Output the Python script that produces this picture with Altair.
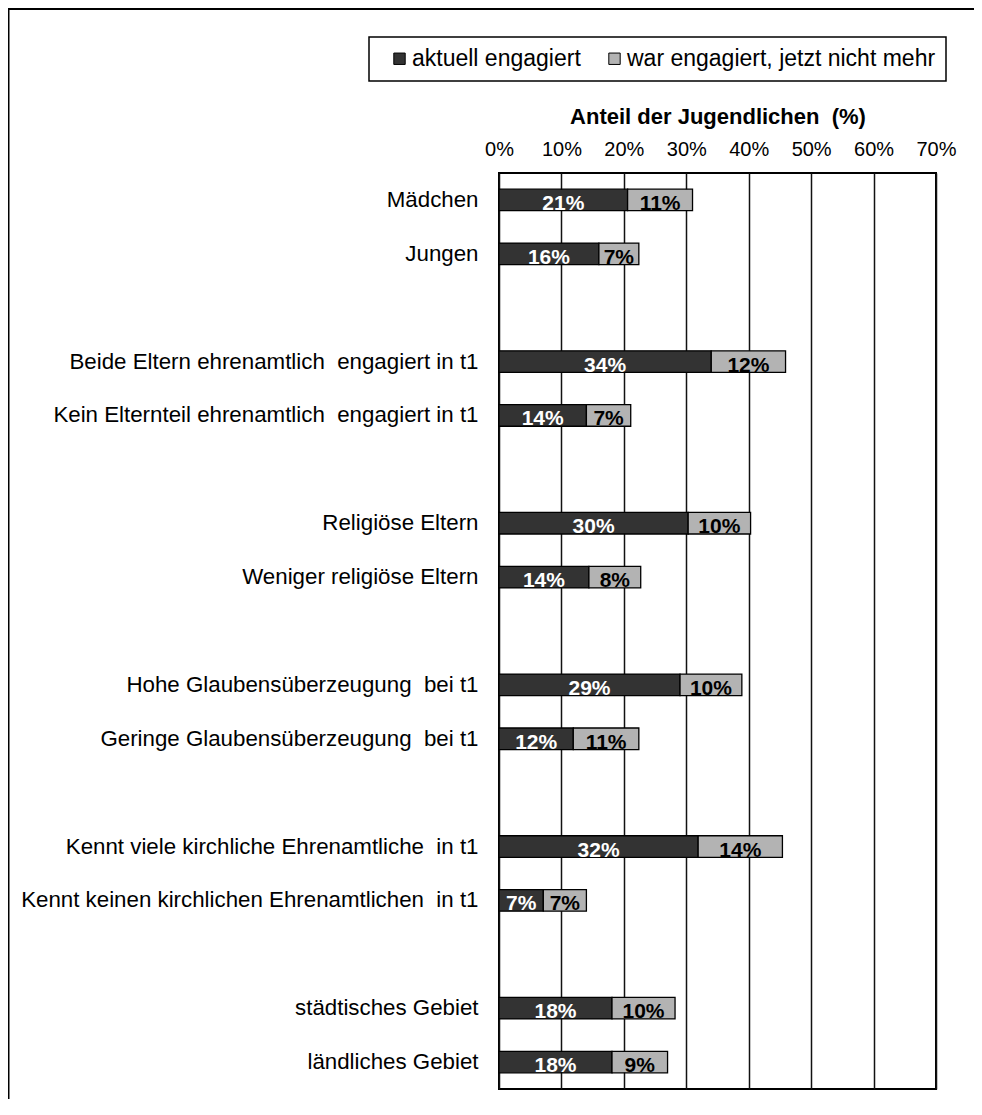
import altair as alt
import pandas as pd

# ---- data ----
categories = [
    "Mädchen",
    "Jungen",
    "Beide Eltern ehrenamtlich \u00a0engagiert in t1",
    "Kein Elternteil ehrenamtlich \u00a0engagiert in t1",
    "Religiöse Eltern",
    "Weniger religiöse Eltern",
    "Hohe Glaubensüberzeugung \u00a0bei t1",
    "Geringe Glaubensüberzeugung \u00a0bei t1",
    "Kennt viele kirchliche Ehrenamtliche \u00a0in t1",
    "Kennt keinen kirchlichen Ehrenamtlichen \u00a0in t1",
    "städtisches Gebiet",
    "ländliches Gebiet",
]
series = ["aktuell engagiert", "war engagiert, jetzt nicht mehr"]
dark_values = [20.6, 16.0, 34.0, 14.0, 30.3, 14.4, 29.0, 11.9, 31.9, 7.1, 18.1, 18.1]
gray_values = [10.4, 6.4, 11.9, 7.1, 10.0, 8.3, 9.9, 10.5, 13.5, 6.9, 10.1, 8.9]
dark_labels = [21, 16, 34, 14, 30, 14, 29, 12, 32, 7, 18, 18]
gray_labels = [11, 7, 12, 7, 10, 8, 10, 11, 14, 7, 10, 9]
x_ticks = [0, 10, 20, 30, 40, 50, 60, 70]

# y domain: pairs of categories separated by empty spacer rows
y_domain = []
for i in range(0, len(categories), 2):
    y_domain += [categories[i], categories[i + 1]]
    if i + 2 < len(categories):
        y_domain.append(" " * (i // 2 + 1))

rows = []
for cat, dv, gv, dl, gl in zip(categories, dark_values, gray_values, dark_labels, gray_labels):
    rows.append(dict(cat=cat, series=series[0], start=0.0, end=dv, mid=dv / 2, label=f"{dl}%"))
    rows.append(dict(cat=cat, series=series[1], start=dv, end=dv + gv, mid=dv + gv / 2, label=f"{gl}%"))
df = pd.DataFrame(rows)

W, H = 437, 916
PAD_L, PAD_T, PAD_R, PAD_B = 491, 165, 38, 10

x_scale = alt.Scale(domain=[0, 70], nice=False, zero=True)
y_scale = alt.Scale(domain=y_domain, paddingInner=0.6, paddingOuter=0.3)

base = alt.Chart(df)

bars = base.mark_bar(stroke="black", strokeWidth=1.3).encode(
    y=alt.Y("cat:N", scale=y_scale, sort=y_domain,
            axis=alt.Axis(title=None, domain=False, ticks=False, labelFontSize=22.3,
                          labelColor="black", labelPadding=21, labelLimit=800)),
    x=alt.X("start:Q", scale=x_scale,
            axis=alt.Axis(orient="top", values=x_ticks, labelExpr="datum.value + '%'",
                          title="Anteil der Jugendlichen \u00a0(%)", titleFontSize=22,
                          titleFontWeight="bold", titleColor="black", titlePadding=11,
                          labelFontSize=20, labelColor="black", labelPadding=14,
                          ticks=False, domain=False, grid=True, gridColor="#111",
                          gridWidth=1.5, labelFlush=False, labelOverlap=False)),
    x2="end:Q",
    color=alt.Color("series:N", scale=alt.Scale(domain=series, range=["#333333", "#b3b3b3"]),
                    legend=alt.Legend(title=None, orient="none", direction="horizontal",
                                      legendX=-130, legendY=-136)),
    order=alt.Order("start:Q"),
)

texts = base.mark_text(fontWeight="bold", fontSize=21, baseline="alphabetic", dy=10).encode(
    y=alt.Y("cat:N", scale=y_scale, sort=y_domain),
    x=alt.X("mid:Q", scale=x_scale),
    text="label:N",
    color=alt.condition(alt.datum.series == series[0], alt.value("white"), alt.value("black")),
)

frame_data = alt.Data(values=[{"k": 0}])
frame_top = alt.Chart(frame_data).mark_rule(color="black", strokeWidth=2).encode(
    x=alt.value(-PAD_L), x2=alt.value(W + PAD_R), y=alt.value(-PAD_T + 1)
)
frame_left = alt.Chart(frame_data).mark_rule(color="black", strokeWidth=2).encode(
    x=alt.value(-PAD_L + 0.5), y=alt.value(-PAD_T), y2=alt.value(H + PAD_B)
)

chart = alt.layer(bars, texts, frame_top, frame_left).properties(
    width=W, height=H,
    autosize=alt.AutoSizeParams(type="none"),
    padding={"left": PAD_L, "top": PAD_T, "right": PAD_R, "bottom": PAD_B},
).configure(
    font="Liberation Sans",
).configure_view(
    stroke="black", strokeWidth=2,
).configure_legend(
    strokeColor="black", strokeWidth=1.5, padding=10, symbolType="square",
    symbolSize=130, symbolStrokeColor="black", symbolStrokeWidth=1,
    symbolOffset=9, labelOffset=1, columnPadding=13, labelFontSize=23,
    labelLimit=600, labelColor="black", fillColor="white", cornerRadius=0,
)

chart.save("out.html", embed_options={"renderer": "svg", "actions": False})
